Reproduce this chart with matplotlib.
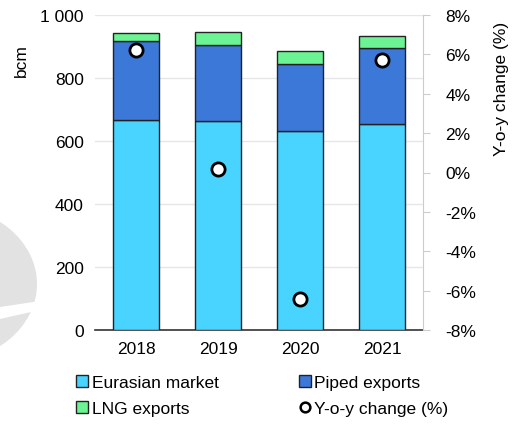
import numpy as np
import matplotlib
matplotlib.use("Agg")
import matplotlib.pyplot as plt
from matplotlib.patches import Circle, Polygon
from matplotlib.lines import Line2D
from matplotlib.patches import Patch

plt.rcParams['font.family'] = ['Liberation Sans', 'DejaVu Sans']
plt.rcParams['font.size'] = 12.5

years = ['2018', '2019', '2020', '2021']
eurasian = [667, 662, 632, 654]
piped = [249, 244, 213, 240]
lng = [27, 39, 40, 40]
yoy = [6.2, 0.2, -6.4, 5.7]

c_eur = '#48d4ff'
c_piped = '#3c78d8'
c_lng = '#6cf393'

fig = plt.figure(figsize=(5.17, 4.27), dpi=100)

# grey watermark on the left
fig.patches.append(Circle((-58 / 517, 1 - 285 / 427), 95 / 517, transform=fig.transFigure,
                          facecolor='#e2e2e2', edgecolor='none', zorder=0))
fig.patches.append(Polygon([(0, 1 - 308 / 427), (40 / 517, 1 - 302 / 427),
                            (40 / 517, 1 - 311 / 427), (0, 1 - 320 / 427)],
                           closed=True, transform=fig.transFigure,
                           facecolor='white', edgecolor='none', zorder=0))

ax = fig.add_axes([95 / 517, 96 / 427, 328 / 517, 315 / 427])
ax.patch.set_alpha(0)

x = np.arange(len(years))
w = 0.57
bottom2 = [eurasian[i] + piped[i] for i in range(4)]
ax.bar(x, eurasian, w, color=c_eur, edgecolor='#222222', linewidth=1, zorder=3)
ax.bar(x, piped, w, bottom=eurasian, color=c_piped, edgecolor='#222222', linewidth=1, zorder=3)
ax.bar(x, lng, w, bottom=bottom2, color=c_lng, edgecolor='#222222', linewidth=1, zorder=3)

ax.set_xlim(-0.5, 3.5)
ax.set_ylim(0, 1000)
ax.set_yticks([0, 200, 400, 600, 800, 1000])
ax.set_yticklabels(['0', '200', '400', '600', '800', '1 000'])
ax.set_xticks(x)
ax.set_xticklabels(years)
ax.yaxis.grid(True, color='#e6e6e6', linewidth=1, zorder=0)
ax.set_ylabel('bcm')
ax.yaxis.set_label_coords(-0.2, 0.86)
for s in ['top', 'right', 'left']:
    ax.spines[s].set_visible(False)
ax.spines['bottom'].set_color('#333333')
ax.spines['bottom'].set_linewidth(1.2)
ax.tick_params(axis='y', length=0, pad=8)
ax.tick_params(axis='x', length=0, pad=8)

ax2 = ax.twinx()
ax2.plot(x, yoy, 'o', markersize=9.5, markerfacecolor='white', markeredgecolor='black',
         markeredgewidth=2, zorder=5)
ax2.set_ylim(-8, 8)
ax2.set_yticks(np.arange(-8, 9, 2))
ax2.set_yticklabels(['%d%%' % v for v in range(-8, 9, 2)])
for s in ['top', 'left', 'bottom']:
    ax2.spines[s].set_visible(False)
ax2.spines['right'].set_color('#cccccc')
ax2.tick_params(axis='y', length=5, color='#cccccc', pad=11)
ax2.set_ylabel('Y-o-y change (%)')
ax2.yaxis.set_label_coords(1.215, 0.77)

handles = [Patch(facecolor=c_eur, edgecolor='#222222'),
           Patch(facecolor=c_piped, edgecolor='#222222'),
           Patch(facecolor=c_lng, edgecolor='#222222'),
           Line2D([], [], linestyle='none', marker='o', markersize=7,
                  markerfacecolor='white', markeredgecolor='black', markeredgewidth=1.8)]
labels = ['Eurasian market', 'Piped exports', 'LNG exports', 'Y-o-y change (%)']
order = [0, 2, 1, 3]
fig.legend([handles[i] for i in order], [labels[i] for i in order], ncol=2,
           loc='lower left', bbox_to_anchor=(64 / 517, -0.005), frameon=False,
           handlelength=0.7, handleheight=0.7, handletextpad=0.2, columnspacing=4.6,
           labelspacing=0.6, borderaxespad=0.3)

fig.savefig('out.png', dpi=100)
